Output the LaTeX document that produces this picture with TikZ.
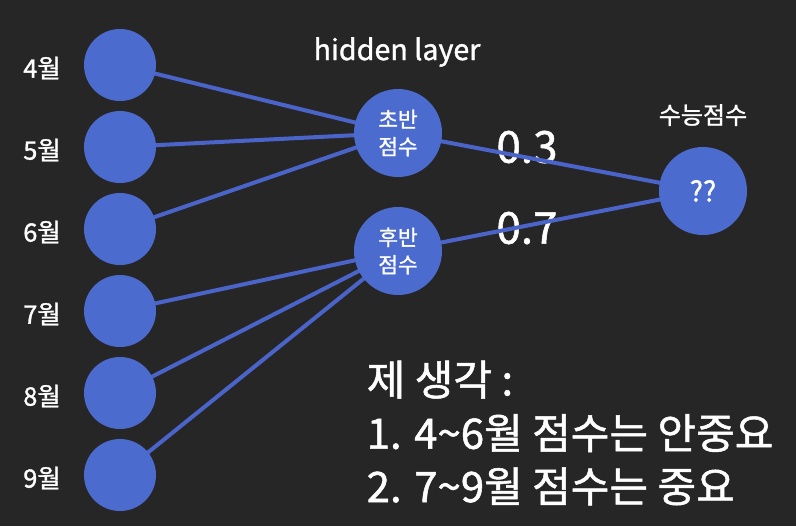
\documentclass[tikz,border=0pt]{standalone}
\usepackage{fontspec}
\setmainfont{Noto Sans CJK KR}[FakeBold=1.2]
\definecolor{bg}{HTML}{262626}
\definecolor{nodeblue}{HTML}{4C6BCE}
\definecolor{lineblue}{HTML}{4A64C9}
\pgfdeclarelayer{bglayer}
\pgfdeclarelayer{wlayer}
\pgfdeclarelayer{connlayer}
\pgfsetlayers{bglayer,wlayer,connlayer,main}
\begin{document}
\begin{tikzpicture}[x=0.75pt,y=-0.75pt,
  inp/.style={circle,fill=nodeblue,minimum size=72*0.75pt,inner sep=0pt},
  hid/.style={circle,fill=nodeblue,minimum size=88*0.75pt,inner sep=0pt,text=white,align=center,font=\fontsize{16}{20.5}\selectfont},
  conn/.style={draw=lineblue,line width=3pt},
  lbl/.style={text=white,font=\fontsize{19}{22}\selectfont},
  wt/.style={text=white,font=\fontsize{33}{36}\selectfont}]
\begin{pgfonlayer}{bglayer}
\fill[bg] (0,0) rectangle (796,526);
\end{pgfonlayer}
\useasboundingbox (0,0) rectangle (796,526);
% input nodes
\foreach \m/\y in {4/65,5/147,6/229,7/311,8/393,9/475}{
  \node[inp] (i\m) at (120,\y) {};
  \node[lbl,anchor=center] (l\m) at (42,\y+3) {\m{}월};
}
\node[hid] (h1) at (398,133) {초반\\점수};
\node[hid] (h2) at (398,251) {후반\\점수};
\node[hid,font=\fontsize{21}{24}\selectfont] (o) at (703,191) {??};
\node[text=white,font=\fontsize{21.5}{24}\selectfont] (hl) at (397,52) {hidden layer};
\node[text=white,font=\fontsize{18}{22}\selectfont] (ol) at (703,115) {수능점수};
\begin{pgfonlayer}{wlayer}
\node[wt] (w1) at (527,147) {0.3};
\node[wt] (w2) at (527,228) {0.7};
\end{pgfonlayer}
\begin{pgfonlayer}{connlayer}
\foreach \m in {4,5,6}{ \draw[conn] (i\m.center) -- (h1.center); }
\foreach \m in {7,8,9}{ \draw[conn] (i\m.center) -- (h2.center); }
\draw[conn] (h1.center) -- (o.center);
\draw[conn] (h2.center) -- (o.center);
\end{pgfonlayer}
\node[text=white,anchor=west,align=left,font=\fontsize{31.5}{40}\selectfont] (note) at (362,433) {제 생각 :\\1. 4\textasciitilde6월 점수는 안중요\\2. 7\textasciitilde9월 점수는 중요};
\end{tikzpicture}
\end{document}
